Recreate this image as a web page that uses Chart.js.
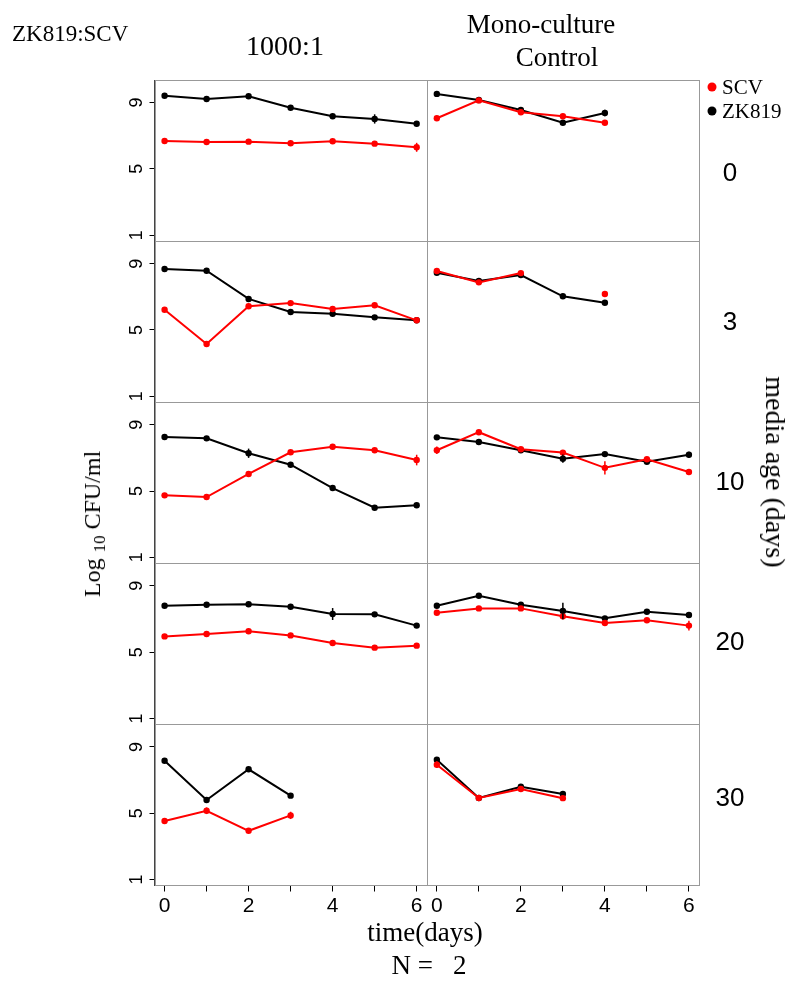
<!DOCTYPE html>
<html>
<head>
<meta charset="utf-8">
<script src="https://cdn.jsdelivr.net/npm/chart.js@4.4.1/dist/chart.umd.min.js"></script>
<style>
    body { margin: 0; background: #fff; }
    #wrap { position: relative; width: 800px; height: 985px; overflow: hidden; font-family: "Liberation Serif", "Times New Roman", serif; color: #000; }
    #wrap canvas { position: absolute; left: 0; top: 0; }
    .t { position: absolute; white-space: nowrap; line-height: 1; transform: translate(-50%, -50%); }
    .sans { font-family: "Liberation Sans", Arial, sans-serif; }
    .dot { position: absolute; width: 9px; height: 9px; border-radius: 50%; transform: translate(-50%, -50%); }
</style>
</head>
<body>
<div id="wrap">
    <canvas id="grafico" width="800" height="985"></canvas>
    <div class="t" style="left: 12px; top: 33px; transform: translate(0, -50%); font-size: 23px;">ZK819:SCV</div>
    <div class="t" style="left: 285px; top: 46px; font-size: 28px;">1000:1</div>
    <div class="t" style="left: 541px; top: 24px; font-size: 27px;">Mono-culture</div>
    <div class="t" style="left: 557px; top: 57px; font-size: 27px;">Control</div>
    <div class="dot" style="left: 712px; top: 87px; background: #ff0000;"></div>
    <div class="t" style="left: 722px; top: 87px; transform: translate(0, -50%); font-size: 21px;">SCV</div>
    <div class="dot" style="left: 712px; top: 111px; background: #000;"></div>
    <div class="t" style="left: 722px; top: 111px; transform: translate(0, -50%); font-size: 21px;">ZK819</div>
    <div id="ages"></div>
    <div class="t" style="left: 775px; top: 472px; font-size: 28px; transform: translate(-50%, -50%) rotate(90deg);">media age (days)</div>
    <div class="t" style="left: 92px; top: 524px; font-size: 24px; transform: translate(-50%, -50%) rotate(-90deg);">Log <span style="font-size: 17px; position: relative; top: 5px;">10</span> CFU/ml</div>
    <div class="t" style="left: 425px; top: 932px; font-size: 27px;">time(days)</div>
    <div class="t" style="left: 429px; top: 965px; font-size: 27px; white-space: pre;">N =   2</div>
</div>
<script>
/*global Chart*/

var days = [0, 1, 2, 3, 4, 5, 6];
var dayLabels = ["0", "", "2", "", "4", "", "6"];
var logTicks = [1, 5, 9];
var mediaAges = ["0", "3", "10", "20", "30"];

// 1000:1 co-culture, one list per media age (log10 CFU/ml)
var scvCo = [
    [6.68, 6.62, 6.64, 6.54, 6.66, 6.52, 6.30],
    [6.22, 4.15, 6.43, 6.62, 6.26, 6.49, 5.58],
    [4.74, 4.64, 6.03, 7.34, 7.67, 7.46, 6.87],
    [5.95, 6.09, 6.26, 6.01, 5.55, 5.27, 5.39],
    [4.53, 5.15, 3.94, 4.87]
];
var zkCo = [
    [9.41, 9.21, 9.38, 8.69, 8.17, 8.01, 7.72],
    [8.68, 8.57, 6.87, 6.08, 5.98, 5.76, 5.58],
    [8.26, 8.18, 7.28, 6.59, 5.18, 3.99, 4.14],
    [7.80, 7.86, 7.89, 7.74, 7.30, 7.28, 6.60],
    [8.17, 5.80, 7.65, 6.06]
];

// mono-culture controls
var scvMono = [
    [8.05, 9.13, 8.41, 8.17, 7.78],
    [8.56, 7.87, 8.43, null, 7.17],
    [7.46, 8.55, 7.52, 7.32, 6.40, 6.92, 6.15],
    [7.38, 7.64, 7.64, 7.16, 6.76, 6.92, 6.60],
    [7.93, 5.92, 6.46, 5.91]
];
var zkMono = [
    [9.52, 9.15, 8.55, 7.78, 8.37],
    [8.45, 7.95, 8.31, 7.03, 6.64],
    [8.24, 7.96, 7.46, 6.95, 7.23, 6.77, 7.19],
    [7.80, 8.40, 7.86, 7.48, 7.04, 7.44, 7.24],
    [8.23, 5.92, 6.60, 6.16]
];

// error bars: [media age row, day, half length]
var scvCoErr = [[0, 6, 0.27], [2, 6, 0.32], [4, 1, 0.2], [4, 3, 0.22]];
var zkCoErr = [[0, 5, 0.28], [1, 2, 0.17], [2, 2, 0.28], [3, 4, 0.36]];
var scvMonoErr = [[2, 0, 0.23], [2, 4, 0.4], [2, 6, 0.18], [3, 3, 0.17], [3, 6, 0.3], [4, 0, 0.2], [4, 2, 0.17]];
var zkMonoErr = [[0, 4, 0.19], [2, 3, 0.25], [2, 6, 0.18], [3, 3, 0.5]];

var rojo = "#ff0000";
var negro = "#000000";

var edades = document.getElementById("ages");
var ageY = [172, 321, 481, 641, 797];
mediaAges.forEach(function (age, r) {
    var d = document.createElement("div");
    d.className = "t sans";
    d.style.left = "730px";
    d.style.top = ageY[r] + "px";
    d.style.fontSize = "26px";
    d.textContent = age;
    edades.appendChild(d);
});

function serie(label, valores, errores, fila, col, color) {
    var errs = {};
    errores.forEach(function (e) {
        if (e[0] === fila) {
            errs[e[1]] = e[2];
        }
    });
    return {
        label: label,
        data: valores.map(function (v, i) {
            return {x: days[i], y: v};
        }),
        errs: errs,
        xAxisID: "x" + col,
        yAxisID: "y" + fila,
        borderColor: color,
        backgroundColor: color,
        pointBackgroundColor: color,
        pointBorderColor: color,
        pointRadius: 3.2,
        pointBorderWidth: 0,
        borderWidth: 2,
        spanGaps: false,
        tension: 0
    };
}

var datasets = [];
mediaAges.forEach(function (age, r) {
    datasets.push(serie("SCV", scvCo[r], scvCoErr, r, 0, rojo));
    datasets.push(serie("ZK819", zkCo[r], zkCoErr, r, 0, negro));
    datasets.push(serie("SCV", scvMono[r], scvMonoErr, r, 1, rojo));
    datasets.push(serie("ZK819", zkMono[r], zkMonoErr, r, 1, negro));
});

var escalas = {};
["x0", "x1"].forEach(function (id) {
    escalas[id] = {
        type: "linear",
        position: "bottom",
        stack: "cols",
        min: -0.24,
        max: 6.24,
        afterBuildTicks: function (s) {
            s.ticks = days.map(function (v) {
                return {value: v};
            });
        },
        afterFit: function (s) {
            s.height = 40;
        },
        grid: {drawOnChartArea: false, tickLength: 6, tickColor: "#000", tickWidth: 1},
        border: {color: "#999"},
        ticks: {
            autoSkip: false,
            maxRotation: 0,
            padding: 2,
            color: "#000",
            font: {family: "Liberation Sans", size: 21},
            callback: function (value) {
                return dayLabels[days.indexOf(value)];
            }
        }
    };
});
mediaAges.forEach(function (age, r) {
    escalas["y" + r] = {
        type: "linear",
        position: "left",
        stack: "rows",
        stackWeight: 1,
        weight: mediaAges.length - r,
        min: 0.64,
        max: 10.36,
        afterBuildTicks: function (s) {
            s.ticks = logTicks.map(function (v) {
                return {value: v};
            });
        },
        afterFit: function (s) {
            s.width = 40;
        },
        grid: {drawOnChartArea: false, tickLength: 5, tickColor: "#000", tickWidth: 1},
        border: {color: "#444"},
        ticks: {
            minRotation: 90,
            maxRotation: 90,
            crossAlign: "center",
            padding: 7,
            color: "#000",
            font: {family: "Liberation Sans", size: 18}
        }
    };
});

var marcos = {
    id: "marcos",
    beforeDraw: function (chart) {
        var ctx = chart.ctx;
        ctx.save();
        ctx.strokeStyle = "#999";
        ctx.lineWidth = 1;
        ["x0", "x1"].forEach(function (xid) {
            var xs = chart.scales[xid];
            mediaAges.forEach(function (age, r) {
                var ys = chart.scales["y" + r];
                ctx.strokeRect(Math.round(xs.left) + 0.5, Math.round(ys.top) + 0.5, Math.round(xs.width), Math.round(ys.height));
            });
        });
        ctx.restore();
    }
};

var barras = {
    id: "barras",
    afterDatasetsDraw: function (chart) {
        var ctx = chart.ctx;
        ctx.save();
        ctx.lineWidth = 1.5;
        chart.data.datasets.forEach(function (ds) {
            var xs = chart.scales[ds.xAxisID];
            var ys = chart.scales[ds.yAxisID];
            ctx.strokeStyle = ds.borderColor;
            Object.keys(ds.errs).forEach(function (k) {
                var i = Number(k);
                var v = ds.data[i].y;
                var e = ds.errs[k];
                var px = xs.getPixelForValue(ds.data[i].x);
                ctx.beginPath();
                ctx.moveTo(px, ys.getPixelForValue(v - e));
                ctx.lineTo(px, ys.getPixelForValue(v + e));
                ctx.stroke();
            });
        });
        ctx.restore();
    }
};

new Chart(document.getElementById("grafico"), {
    type: "line",
    data: {datasets: datasets},
    options: {
        responsive: false,
        animation: false,
        devicePixelRatio: 1,
        events: [],
        layout: {
            padding: {left: 114.5, top: 80, right: 101, bottom: 59.5}
        },
        plugins: {
            legend: {display: false},
            tooltip: {enabled: false}
        },
        scales: escalas
    },
    plugins: [marcos, barras]
});
</script>
</body>
</html>
